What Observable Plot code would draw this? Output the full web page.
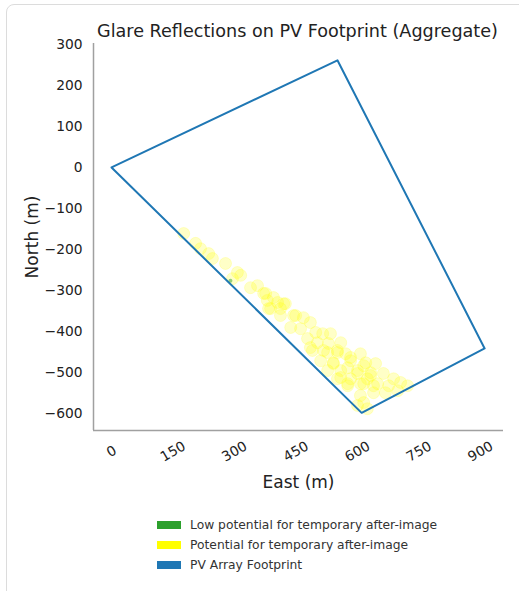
<!DOCTYPE html>
<html>
<head>
<meta charset="utf-8">
<script src="https://cdn.jsdelivr.net/npm/d3@7"></script>
<script src="https://cdn.jsdelivr.net/npm/@observablehq/plot@0.6"></script>
<style>
  html, body { margin: 0; padding: 0; background: #fff; overflow: hidden; width: 519px; height: 591px; }
  body { font-family: "DejaVu Sans", sans-serif; position: relative; }
  #card { position: absolute; left: 6px; top: 4px; width: 620px; height: 700px; border: 1px solid #dcdcdc; border-radius: 8px; }
  #chart { position: absolute; left: 0; top: 0; }
  #legend { position: absolute; left: 157px; top: 515px; font-size: 12.3px; color: #333; }
  .row { display: flex; align-items: center; height: 20px; }
  .sw { width: 24px; height: 8px; margin-right: 9px; }
</style>
</head>
<body>
<div id="card"></div>
<div id="chart"></div>
<div id="legend"></div>
<script>
// Data
const title = "Glare Reflections on PV Footprint (Aggregate)";
const xLabel = "East (m)";
const yLabel = "North (m)";
const xDomain = [-44, 956];
const yDomain = [-641, 302];
const xTicks = [0, 150, 300, 450, 600, 750, 900];
const yTicks = [-600, -500, -400, -300, -200, -100, 0, 100, 200, 300];

const footprintX = [0, 551, 910, 610, 0];
const footprintY = [0, 261, -441, -598, 0];

const glareX = [176, 205, 217, 237, 246, 278, 307, 315, 295, 339, 356, 376, 380, 405, 424, 388, 412, 444,
  371, 395, 420, 383, 412, 449, 468, 485, 437, 461, 498, 515, 534, 478, 502, 529, 559, 490, 527, 551, 571, 607,
  510, 541, 583, 620, 644, 527, 559, 600, 632, 551, 583, 624, 576, 607, 639,
  485, 517, 551, 583, 541, 576, 615, 559, 600, 632, 663, 688, 705, 722, 576, 615, 649, 676, 607, 639, 668, 615, 600, 624, 698];
const glareY = [-161, -185, -198, -210, -222, -234, -256, -263, -271, -293, -288, -307, -324, -329, -332, -344, -344, -361,
  -307, -317, -332, -344, -361, -361, -366, -378, -390, -393, -402, -405, -405, -417, -427, -429, -427, -446, -451, -451, -454, -454,
  -471, -476, -471, -476, -478, -495, -495, -495, -500, -515, -515, -515, -532, -527, -532,
  -439, -446, -446, -463, -478, -488, -483, -512, -502, -507, -502, -515, -524, -532, -527, -527, -527, -532, -556, -549, -549, -573, -580, -588, -544];

const lowX = [290];
const lowY = [-276];

const legendLabels = ["Low potential for temporary after-image", "Potential for temporary after-image", "PV Array Footprint"];
const legendColors = ["#2ca02c", "#ffff00", "#1f77b4"];

const footprint = footprintX.map((x, i) => ({x, y: footprintY[i]}));
const glare = glareX.map((x, i) => ({x, y: glareY[i]}));
const low = lowX.map((x, i) => ({x, y: lowY[i]}));

const chart = Plot.plot({
  width: 519,
  height: 500,
  marginLeft: 93,
  marginRight: 16,
  marginTop: 43,
  marginBottom: 70,
  style: { fontFamily: "DejaVu Sans, sans-serif", color: "#222", background: "transparent", overflow: "visible" },
  x: { domain: xDomain, axis: null },
  y: { domain: yDomain, axis: null },
  marks: [
    Plot.ruleX([xDomain[0]], { stroke: "#a0a0a0", strokeWidth: 1.5 }),
    Plot.ruleY([yDomain[0]], { stroke: "#a0a0a0", strokeWidth: 1.5 }),
    Plot.axisY({ ticks: yTicks, tickSize: 0, tickPadding: 11, fontSize: 13.8, label: null }),
    Plot.text(xTicks, { x: d => d, frameAnchor: "bottom", dy: 21, rotate: -30, textAnchor: "middle", lineAnchor: "middle", fontSize: 13.8, fill: "#222" }),
    Plot.dot(glare, { x: "x", y: "y", r: 6, fill: "#ffff00", fillOpacity: 0.22, stroke: "#ffff00", strokeOpacity: 0.18, strokeWidth: 1 }),
    Plot.dot(low, { x: "x", y: "y", r: 2, fill: "#2ca02c", fillOpacity: 0.5, stroke: "none" }),
    Plot.line(footprint, { x: "x", y: "y", stroke: "#1f77b4", strokeWidth: 2 }),
    Plot.text([title], { frameAnchor: "top", dy: -7, dx: -1, lineAnchor: "bottom", fontSize: 17.6, fill: "#222" }),
    Plot.text([xLabel], { frameAnchor: "bottom", dy: 52, lineAnchor: "middle", fontSize: 17, fill: "#222" }),
    Plot.text([yLabel], { frameAnchor: "left", dx: -61, rotate: -90, textAnchor: "middle", lineAnchor: "middle", fontSize: 17, fill: "#222" })
  ]
});
document.getElementById("chart").appendChild(chart);

const legend = document.getElementById("legend");
legendLabels.forEach((label, i) => {
  const row = document.createElement("div");
  row.className = "row";
  const sw = document.createElement("div");
  sw.className = "sw";
  sw.style.background = legendColors[i];
  const t = document.createElement("span");
  t.textContent = label;
  row.appendChild(sw);
  row.appendChild(t);
  legend.appendChild(row);
});
</script>
</body>
</html>
